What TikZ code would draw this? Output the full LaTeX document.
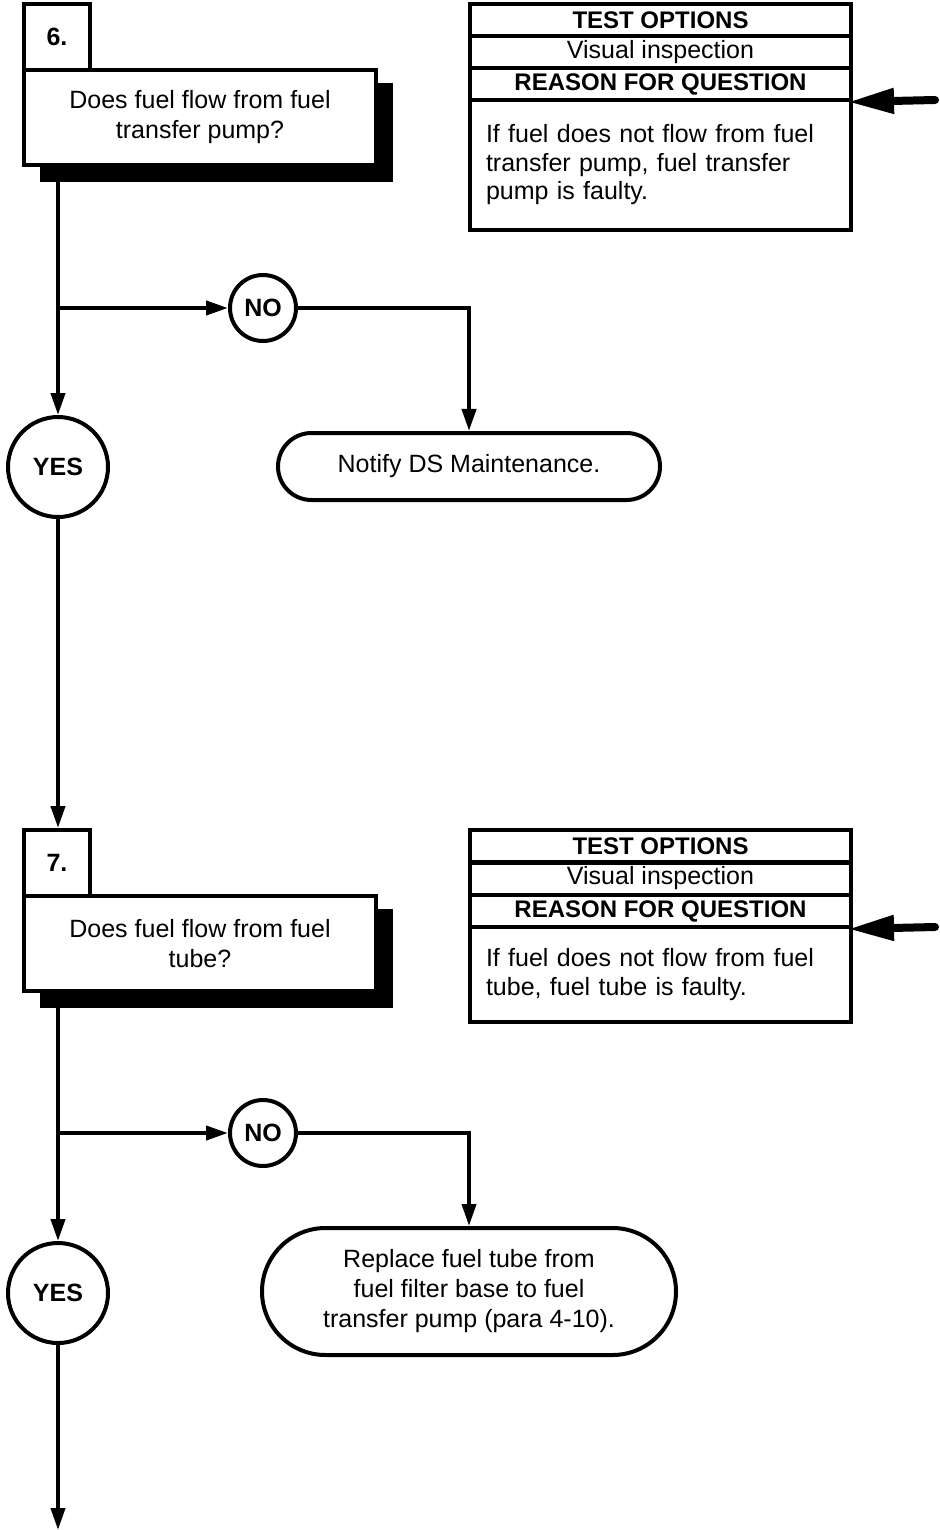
\documentclass[tikz,border=0pt]{standalone}
\usepackage{fontspec}
\setmainfont{Liberation Sans}
\usetikzlibrary{arrows.meta, shapes.misc}

\tikzset{
    flow/.style={line width=2pt, -{Triangle[length=11pt, width=7pt]}},
    bigarrow/.style={line width=4pt, line cap=round, -{Triangle[length=23pt, width=12pt]}},
    tabbox/.style={draw, fill=white, minimum size=33pt, inner sep=0pt, font=\bfseries\fontsize{12.5}{14}\selectfont},
    qbox/.style={draw, fill=white, minimum width=176pt, minimum height=47.5pt, inner sep=0pt, align=center},
    shadowbox/.style={fill=black, minimum width=176.5pt, minimum height=49.5pt, inner sep=0pt},
    row/.style={draw, minimum width=190.5pt, minimum height=16pt, inner sep=0pt},
    hdr/.style={row, font=\bfseries\fontsize{12}{13}\selectfont},
    why/.style={draw, text width=174.5pt, inner xsep=8pt, inner ysep=0pt, align=left, font=\fontsize{12.5}{14.25}\selectfont},
    answer/.style={draw, circle, fill=white, inner sep=0pt, font=\bfseries\fontsize{12.5}{14}\selectfont},
    action/.style={draw, rounded rectangle, fill=white, inner sep=0pt, align=center}
}

\begin{document}
\begin{tikzpicture}[x=0.5pt, y=-0.5pt, line width=2pt, font=\fontsize{12.5}{15}\selectfont]

    \useasboundingbox (0,0) rectangle (940,1530);

    % ==========================================
    % STEP 6
    % ==========================================
    % Question box with number tab and shadow
    \node[shadowbox] (shd6) at (216.5,132.5) {};
    \node[tabbox] (tab6) at (57,37) {6.};
    \node[qbox] (q6) at (200,117.5) {Does fuel flow from fuel\\transfer pump?};
    \coordinate (q6out) at (58,182);

    % Test options / reason for question
    \node[hdr] (opt6) at (660.5,20) {TEST OPTIONS};
    \node[row] (vis6) at (660.5,52) {Visual inspection};
    \node[hdr] (rsn6) at (660.5,84) {REASON FOR QUESTION};
    \node[why, minimum height=65pt] (why6) at (660.5,165)
        {If fuel does not flow from fuel transfer pump, fuel transfer pump is faulty.};
    \coordinate (in6) at (935,100);
    \draw[bigarrow] (in6) -- ([xshift=-2.5pt]rsn6.south east);

    % Answers
    \node[answer, minimum size=33pt] (no6) at (263,308) {NO};
    \node[answer, minimum size=50pt] (yes6) at (58,467) {YES};
    \node[action, minimum width=191pt, minimum height=33.5pt] (act6) at (469,466.5) {Notify DS Maintenance.};
    \coordinate (br6) at (58,308);

    \draw[flow] (q6out) -- (yes6);
    \draw[flow] (br6) -- (no6);
    \draw[flow] (no6) -| (act6);

    % ==========================================
    % STEP 7
    % ==========================================
    \node[shadowbox] (shd7) at (216.5,958.5) {};
    \node[tabbox] (tab7) at (57,863) {7.};
    \node[qbox] (q7) at (200,943.5) {Does fuel flow from fuel\\tube?};
    \coordinate (q7out) at (58,1008);

    \draw[flow] (yes6) -- (yes6 |- tab7.north);

    % Test options / reason for question
    \node[hdr] (opt7) at (660.5,846) {TEST OPTIONS};
    \node[row] (vis7) at (660.5,878.5) {Visual inspection};
    \node[hdr] (rsn7) at (660.5,911) {REASON FOR QUESTION};
    \node[why, minimum height=47.5pt] (why7) at (660.5,974.5)
        {If fuel does not flow from fuel tube, fuel tube is faulty.};
    \coordinate (in7) at (935,927);
    \draw[bigarrow] (in7) -- ([xshift=-2.5pt]rsn7.south east);

    % Answers
    \node[answer, minimum size=33pt] (no7) at (263,1133) {NO};
    \node[answer, minimum size=50pt] (yes7) at (58,1293) {YES};
    \node[action, minimum width=207pt, minimum height=63.5pt] (act7) at (469,1291.5)
        {Replace fuel tube from\\fuel filter base to fuel\\transfer pump (para 4-10).};
    \coordinate (br7) at (58,1133);
    \coordinate (end7) at (58,1530);

    \draw[flow] (q7out) -- (yes7);
    \draw[flow] (br7) -- (no7);
    \draw[flow] (no7) -| (act7);
    \draw[flow] (yes7) -- (end7);

\end{tikzpicture}
\end{document}
